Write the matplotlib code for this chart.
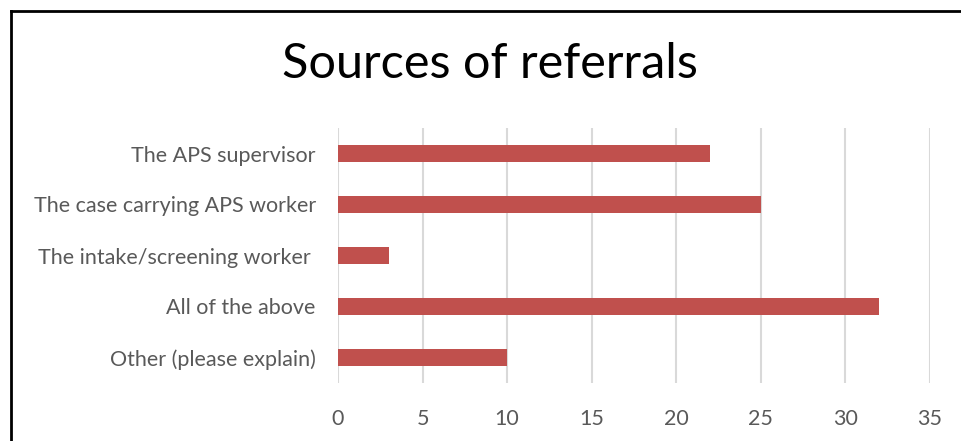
import matplotlib.pyplot as plt
from matplotlib.lines import Line2D

categories = [
    "The APS supervisor",
    "The case carrying APS worker",
    "The intake/screening worker ",
    "All of the above",
    "Other (please explain)",
]
counts = [22, 25, 3, 32, 10]
xticks = [0, 5, 10, 15, 20, 25, 30, 35]

plt.rcParams['font.family'] = ['Lato', 'DejaVu Sans']

fig = plt.figure(figsize=(9.61, 4.41), dpi=100)
ax = fig.add_axes([338 / 961, 1 - 383 / 441, (930 - 338) / 961, (383 - 128) / 441])

ypos = list(range(len(categories)))
ax.barh(ypos, counts, height=0.34, color='#C0504D', zorder=3)
ax.set_ylim(len(categories) - 0.5, -0.5)
ax.set_xlim(0, 35)
ax.set_xticks(xticks)
ax.set_yticks(ypos)
ax.set_yticklabels(categories)

ax.grid(axis='x', color='#D9D9D9', linewidth=1.5, zorder=0)
ax.grid(axis='y', visible=False)
for s in ax.spines.values():
    s.set_visible(False)
ax.tick_params(axis='both', length=0, labelsize=15.5, colors='#595959')
ax.tick_params(axis='y', pad=16)
ax.tick_params(axis='x', pad=19)

fig.text(490 / 961, 1 - 64 / 441, "Sources of referrals", ha='center', va='center',
         fontsize=35, color='black')

# frame lines around the chart area
fig.add_artist(Line2D([11 / 961, 11 / 961], [0, 1 - 10.5 / 441],
                      transform=fig.transFigure, color='black', linewidth=2))
fig.add_artist(Line2D([11 / 961, 1], [1 - 10.5 / 441, 1 - 10.5 / 441],
                      transform=fig.transFigure, color='black', linewidth=2))

fig.savefig("out.png", dpi=100)
